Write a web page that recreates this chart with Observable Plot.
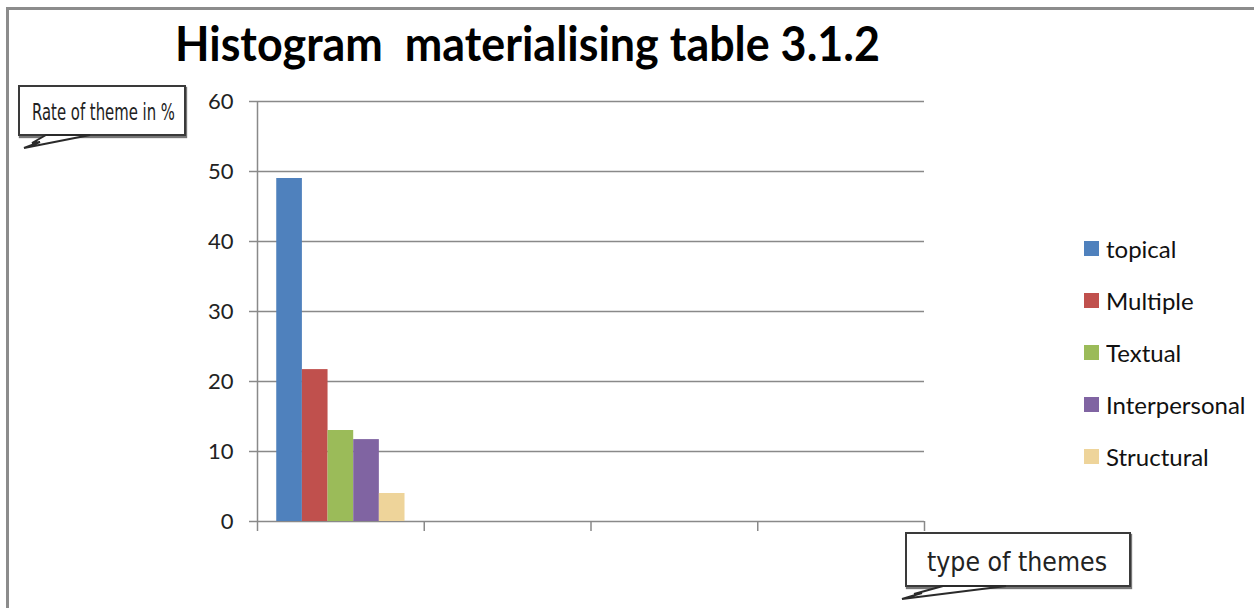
<!DOCTYPE html>
<html>
<head>
<meta charset="utf-8">
<script src="https://cdn.jsdelivr.net/npm/d3@7"></script>
<script src="https://cdn.jsdelivr.net/npm/@observablehq/plot@0.6"></script>
<style>
  body { margin: 0; background: #fff; }
  #root { position: relative; width: 1254px; height: 608px; overflow: hidden; background: #fff; font-family: Lato, "Open Sans", sans-serif; }
  #frame { position: absolute; left: 6px; top: 7px; width: 1400px; height: 800px; border-left: 3px solid #8c8c8c; border-top: 3px solid #8c8c8c; }
  #title { position: absolute; left: 175px; top: 13px; font-size: 47px; font-weight: 700; color: #000; white-space: pre; line-height: 60px; transform-origin: 0 0; }
  #chart { position: absolute; left: 0; top: 80px; }
  #legend { position: absolute; left: 1084px; top: 234px; }
  .lg-swatch { margin-bottom: 22px !important; font-size: 24px; color: #111; font-family: Lato, sans-serif; }
  .lg-swatch svg { margin-right: 7px !important; }
  .callout { position: absolute; border: 2px solid #3a3a3a; background: #fff; box-shadow: 1px 2px 1px #777; box-sizing: border-box; }
  .callout span { position: absolute; white-space: pre; font-family: "DejaVu Sans", sans-serif; color: #222; transform-origin: 0 0; }
  svg.tail { position: absolute; left: 0; top: 0; overflow: visible; }
</style>
</head>
<body>
<div id="root">
  <div id="frame"></div>
  <div id="title"></div>
  <div id="chart"></div>
  <div id="legend"></div>
  <div class="callout" id="cy" style="left:18px;top:85px;width:168px;height:51px;"><span id="cyText" style="left:12px;top:12px;font-size:23px;line-height:26px;"></span></div>
  <div class="callout" id="cx" style="left:905px;top:532px;width:226px;height:55px;"><span id="cxText" style="left:20px;top:13px;font-size:27px;line-height:30px;"></span></div>
  <svg class="tail" width="1254" height="608">
    <polygon points="46,135 32,143 40,142 24,148 90,135" fill="#fff" stroke="#2a2a2a" stroke-width="2" stroke-linejoin="miter"/>
    <polygon points="943,586 914,594 922,593 902,599 1006,586" fill="#fff" stroke="#2a2a2a" stroke-width="2" stroke-linejoin="miter"/>
  </svg>
</div>
<script>
// ---- data ----
const chartTitle = "Histogram  materialising table 3.1.2";
const yLabel = "Rate of theme in %";
const xLabel = "type of themes";
const series = ["topical", "Multiple", "Textual", "Interpersonal", "Structural"];
const values = [49, 21.7, 13, 11.7, 4];           // % in the first (only filled) category
const colors = ["#4F81BD", "#C0504D", "#9BBB59", "#8064A2", "#EED49A"];
const categoryCount = 4;                          // x axis has four category slots
const xTicks = [0, 1, 2, 3, 4];                   // category boundaries (unlabeled)
const yTicks = [0, 10, 20, 30, 40, 50, 60];

// ---- table built from the arrays ----
const rows = series.map((s, i) => ({category: 0, series: s, index: i, value: values[i]}));
const gapWidth = 1.5; // Excel-style gap width 150%
const slot = d => (gapWidth / 2 + d.index) / (series.length + gapWidth);

const gridColor = "#898989";

const chart = Plot.plot({
  width: 1000,
  height: 460,
  marginLeft: 257,
  marginRight: 76,
  marginTop: 21,
  marginBottom: 19,
  style: {fontFamily: "Lato, sans-serif", fontSize: "22px", background: "transparent", overflow: "visible"},
  x: {type: "linear", domain: [0, categoryCount], axis: null},
  y: {domain: [0, 60], axis: null},
  color: {domain: series, range: colors},
  marks: [
    Plot.ruleY(yTicks, {stroke: gridColor, strokeWidth: 1.5}),
    Plot.rectY(rows, {
      x1: d => d.category + slot(d),
      x2: d => d.category + slot(d) + 1 / (series.length + gapWidth),
      y1: 0,
      y2: "value",
      fill: "series"
    }),
    Plot.ruleX([0], {stroke: gridColor, strokeWidth: 1.5}),
    Plot.axisY({ticks: yTicks, tickSize: 8, tickFormat: () => "", label: null, stroke: gridColor, strokeWidth: 1.5}),
    Plot.axisY({ticks: yTicks, tickSize: 0, tickPadding: 24, label: null, fill: "#222", fontSize: 22}),
    Plot.axisX({ticks: xTicks, tickSize: 10, tickFormat: () => "", label: null, stroke: gridColor, strokeWidth: 1.5})
  ]
});
document.getElementById("chart").appendChild(chart);

const legend = Plot.legend({
  color: {domain: series, range: colors},
  legend: "swatches",
  columns: 1,
  swatchSize: 15,
  className: "lg"
});
document.getElementById("legend").appendChild(legend);

// ---- text ----
function fitWidth(el, target) {
  el.style.display = "inline-block";
  const w = el.getBoundingClientRect().width;
  if (w > 0) el.style.transform = `scaleX(${target / w})`;
}
const t = document.getElementById("title");
t.textContent = chartTitle;
fitWidth(t, 705);
const cy = document.getElementById("cyText");
cy.textContent = yLabel;
fitWidth(cy, 143);
const cx = document.getElementById("cxText");
cx.textContent = xLabel;
fitWidth(cx, 180);
</script>
</body>
</html>
